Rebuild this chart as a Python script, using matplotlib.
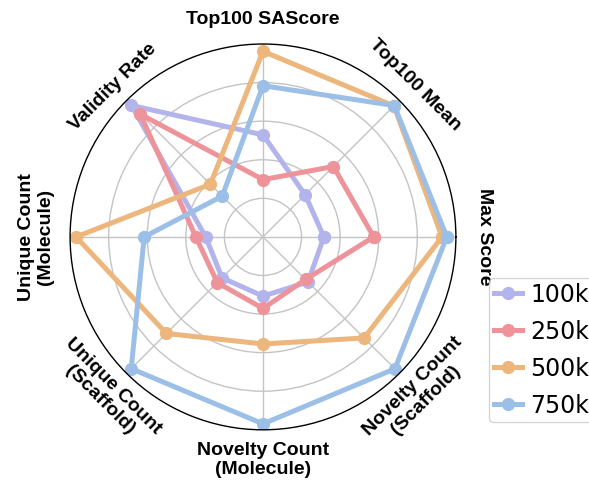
import numpy as np
import matplotlib
matplotlib.use("Agg")
import matplotlib.pyplot as plt

# Metrics arranged counter-clockwise starting from the east axis
categories = [
    "Max Score",
    "Top100 Mean",
    "Top100 SAScore",
    "Validity Rate",
    "Unique Count\n(Molecule)",
    "Unique Count\n(Scaffold)",
    "Novelty Count\n(Molecule)",
    "Novelty Count\n(Scaffold)",
]

series_names = ["100k", "250k", "500k", "750k"]

# Normalised scores per metric (same order as categories)
values_100k = [0.316, 0.309, 0.529, 0.964, 0.297, 0.300, 0.307, 0.330]
values_250k = [0.574, 0.516, 0.297, 0.900, 0.348, 0.335, 0.371, 0.312]
values_500k = [0.928, 0.960, 0.962, 0.386, 0.969, 0.708, 0.555, 0.741]
values_750k = [0.953, 0.963, 0.784, 0.299, 0.616, 0.966, 0.969, 0.967]

series_values = [values_100k, values_250k, values_500k, values_750k]
colors = ["#b4b4ec", "#ee939a", "#ecb67c", "#9bbfe6"]

# Radial distance of each axis label (axis radius = 1)
label_radius = [1.15, 1.115, 1.125, 1.10, 1.175, 1.145, 1.155, 1.145]

n = len(categories)
angles = np.linspace(0, 2 * np.pi, n, endpoint=False)

fig = plt.figure(figsize=(5.89, 4.83), dpi=100)
ax = fig.add_axes([0.119, 0.110, 0.655, 0.799], projection="polar")

for name, vals, col in zip(series_names, series_values, colors):
    th = np.append(angles, angles[0])
    rv = np.append(vals, vals[0])
    ax.plot(th, rv, color=col, linewidth=3.6, marker="o", markersize=8.5,
            label=name, solid_joinstyle="miter")

ax.set_ylim(0, 1.0)
ax.set_yticks([0.2, 0.4, 0.6, 0.8])
ax.set_yticklabels([])
ax.set_xticks(angles)
ax.set_xticklabels([])
ax.grid(True, color="#c4c4c4", linewidth=1.0)
ax.spines["polar"].set_color("black")
ax.spines["polar"].set_linewidth(1.0)

# Tangentially rotated axis labels
for ang, lab, rad in zip(angles, categories, label_radius):
    deg = np.degrees(ang)
    if np.isclose(deg, 0):
        rot = -90
    elif np.isclose(deg, 180):
        rot = 90
    elif deg < 180:
        rot = deg - 90
    else:
        rot = deg - 270
    ax.text(ang, rad, lab, rotation=rot, rotation_mode="anchor",
            ha="center", va="center", fontsize=14, fontweight="bold",
            family="Liberation Sans", linespacing=1.15)

fig.legend(loc="upper left", bbox_to_anchor=(0.8302, 0.4244),
           prop={"family": "DejaVu Sans", "size": 17},
           handlelength=1.2, handletextpad=0.35, borderaxespad=0.0,
           labelspacing=0.55, borderpad=0.2)

fig.savefig("out.png", dpi=100)
